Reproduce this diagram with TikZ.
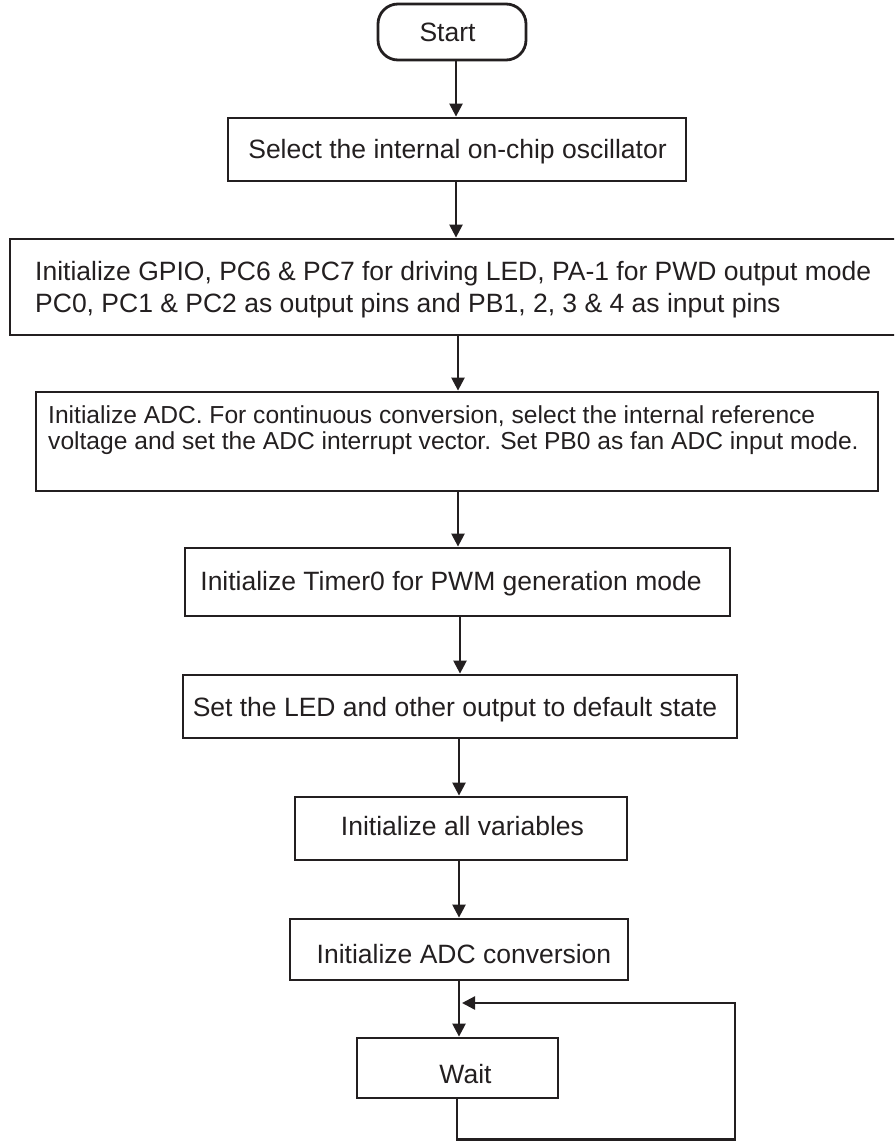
\documentclass[tikz,border=0pt]{standalone}
\usepackage{fontspec}
\setmainfont{Liberation Sans}
\usetikzlibrary{arrows.meta}
\definecolor{ink}{HTML}{231F20}
\begin{document}
\begin{tikzpicture}[x=1pt,y=-1pt,
  box/.style={draw=ink, line width=2.8pt, inner sep=0pt},
  txt/.style={inner sep=0pt, text=ink, font=\fontsize{26.5}{31.8}\selectfont},
  txts/.style={inner sep=0pt, text=ink, font=\fontsize{24.6}{29}\selectfont},
  arr/.style={draw=ink, line width=2.4pt, -{Triangle[width=13pt,length=13pt]}},
  ln/.style={draw=ink, line width=2.4pt}]
\useasboundingbox (0,0) rectangle (894,1142);
\clip (0,0) rectangle (894,1142);
% boxes
\node[box, rounded corners=20pt, minimum width=148pt, minimum height=56pt] (b1) at (452,32) {};
\node[box, minimum width=458pt, minimum height=63pt] (b2) at (457,149.5) {};
\node[box, minimum width=900pt, minimum height=96pt] (b3) at (460,287) {};
\node[box, minimum width=842pt, minimum height=99pt] (b4) at (457,441.5) {};
\node[box, minimum width=545pt, minimum height=68pt] (b5) at (457.5,582) {};
\node[box, minimum width=554pt, minimum height=63pt] (b6) at (460,706.5) {};
\node[box, minimum width=332pt, minimum height=63pt] (b7) at (461,828.5) {};
\node[box, minimum width=338pt, minimum height=61pt] (b8) at (459,949.5) {};
\node[box, minimum width=201pt, minimum height=60pt] (bw) at (457.5,1068) {};
% texts
\node[txt, anchor=base] (t1) at (447.5,42) {Start};
\node[txt, anchor=base] (t2) at (457.5,159) {Select the internal on-chip oscillator};
\node[txt, anchor=base west] (t3a) at (35,280) {Initialize GPIO, PC6 \& PC7 for driving LED, PA-1 for PWD output mode};
\node[txt, anchor=base west] (t3b) at (35,312) {PC0, PC1 \& PC2 as output pins and PB1, 2, 3 \& 4 as input pins};
\node[txts, anchor=base west] (t4a) at (48,423) {Initialize ADC. For continuous conversion, select the internal reference};
\node[txts, anchor=base west] (t4b) at (48,449) {voltage and set the ADC interrupt vector. Set PB0 as fan ADC input mode.};
\node[txt, anchor=base] (t5) at (451,590) {Initialize Timer0 for PWM generation mode};
\node[txt, anchor=base] (t6) at (455,716) {Set the LED and other output to default state};
\node[txt, anchor=base] (t7) at (462.5,835) {Initialize all variables};
\node[txt, anchor=base] (t8) at (464,963) {Initialize ADC conversion};
\node[txt, anchor=base] (tw) at (465.5,1083) {Wait};
% arrow columns
\coordinate (a1) at (456,0);
\coordinate (a3) at (458,0);
\coordinate (a5) at (460,0);
\coordinate (a6) at (459,0);
\coordinate (a9) at (457,0);
\coordinate (lc) at (735,1139.5);
\coordinate (fb) at (462,1003);
\draw[arr] (b1.south -| a1) -- (b2.north -| a1);
\draw[arr] (b2.south -| a1) -- (b3.north -| a1);
\draw[arr] (b3.south -| a3) -- (b4.north -| a3);
\draw[arr] (b4.south -| a3) -- (b5.north -| a3);
\draw[arr] (b5.south -| a5) -- (b6.north -| a5);
\draw[arr] (b6.south -| a6) -- (b7.north -| a6);
\draw[arr] (b7.south -| a6) -- (b8.north -| a6);
\draw[arr] (b8.south -| a6) -- (bw.north -| a6);
\draw[arr] (bw.south -| a9) |- (lc) |- (fb);
\end{tikzpicture}
\end{document}
